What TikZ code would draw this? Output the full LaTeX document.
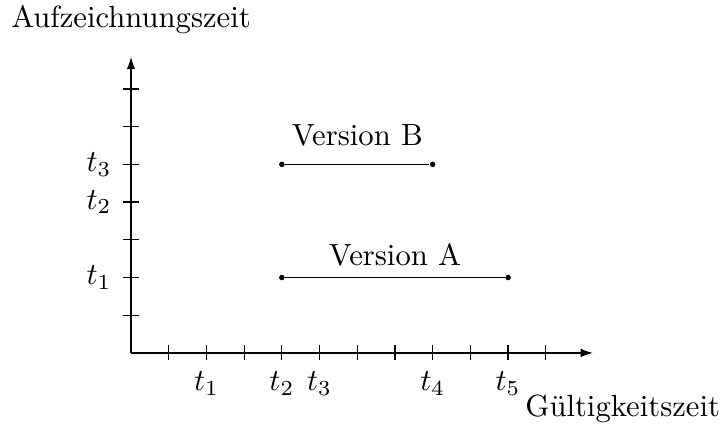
\documentclass[tikz,border=0pt]{standalone}
\usepackage{tikz}
\usetikzlibrary{arrows.meta, positioning}

\begin{document}
\begin{tikzpicture}[x=0.4323cm, y=0.4323cm,
    dot/.style={circle, fill=black, inner sep=0pt, minimum size=1.8pt},
    axis/.style={-{Latex[length=4pt, width=2.8pt]}}]
  \useasboundingbox (-3.475,-2.04) rectangle (15.70,9.36);

  % Axes
  \coordinate (O) at (0,0);
  \coordinate (xend) at (12.25,0);
  \coordinate (yend) at (0,7.85);
  \draw[axis] (O) -- (xend);
  \draw[axis] (O) -- (yend);
  \foreach \i in {1,...,11} \draw (\i,-0.2) -- (\i,0.2);
  \foreach \j in {1,...,7} \draw (-0.2,\j) -- (0.2,\j);

  % Achsenbeschriftung
  \node (ylabel) at (0,8.83) {Aufzeichnungszeit};
  \node (xlabel) at (13.04,-1.49) {G\"ultigkeitszeit};
  \foreach \i/\t in {2/1, 4/2, 5/3, 8/4, 10/5}
    \node (xt\t) at (\i,-0.82) {$t_\t$};
  \foreach \j/\t in {2/1, 4/2, 5/3}
    \node (yt\t) at (-0.85,\j) {$t_\t$};

  % Version A
  \node[dot] (a1) at (4,2) {};
  \node[dot] (a2) at (10,2) {};
  \draw (a1) -- (a2);
  \node (verA) at (7,2.59) {Version A};

  % Version B
  \node[dot] (b1) at (4,5) {};
  \node[dot] (b2) at (8,5) {};
  \draw (b1) -- (b2);
  \node (verB) at (6,5.76) {Version B};
\end{tikzpicture}
\end{document}
